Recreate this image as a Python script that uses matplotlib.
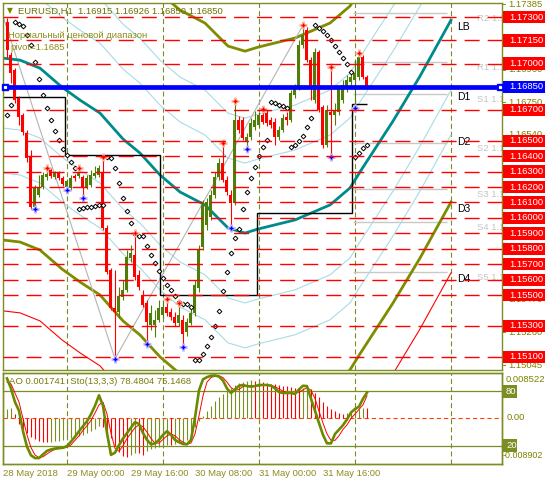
import numpy as np
import matplotlib
matplotlib.use("Agg")
import matplotlib.pyplot as plt
import matplotlib.transforms as mtransforms
from matplotlib.patches import Rectangle

plt.rcParams['font.family'] = ['Liberation Sans', 'DejaVu Sans']
plt.rcParams['lines.scale_dashes'] = False

# ---------------- data (EURUSD H1, one value per bar) ----------------
opens = [1.17268, 1.17054, 1.16957, 1.16776, 1.16666, 1.16550, 1.16401, 1.16071, 1.16148, 1.16200,
         1.16265, 1.16310, 1.16265, 1.16291, 1.16259, 1.16200, 1.16194, 1.16272, 1.16272, 1.16265,
         1.16200, 1.16213, 1.16272, 1.16278, 1.16291, 1.15935, 1.15663, 1.15417, 1.15391, 1.15488,
         1.15534, 1.15741, 1.15760, 1.15631, 1.15501, 1.15450, 1.15307, 1.15307, 1.15340, 1.15372,
         1.15424, 1.15391, 1.15359, 1.15320, 1.15340, 1.15262, 1.15320, 1.15385, 1.15547, 1.15812,
         1.15954, 1.16006, 1.16148, 1.16265, 1.16355, 1.16246, 1.16148, 1.16097, 1.16634, 1.16634,
         1.16491, 1.16524, 1.16588, 1.16601, 1.16666, 1.16679, 1.16634, 1.16621, 1.16524, 1.16569,
         1.16653, 1.16634, 1.16796, 1.16847, 1.17119, 1.17216, 1.17022, 1.16763, 1.17074, 1.16718,
         1.16472, 1.16685, 1.16666, 1.16685, 1.16763, 1.16841, 1.16879, 1.16892, 1.16912, 1.17041,
         1.16915]
highs = [1.17294, 1.17074, 1.16970, 1.16789, 1.16679, 1.16569, 1.16440, 1.16213, 1.16278, 1.16298,
         1.16323, 1.16323, 1.16304, 1.16304, 1.16272, 1.16252, 1.16278, 1.16285, 1.16323, 1.16278,
         1.16278, 1.16310, 1.16336, 1.16342, 1.16394, 1.15954, 1.15676, 1.15663, 1.15553, 1.15598,
         1.15793, 1.15825, 1.15902, 1.15663, 1.15534, 1.15469, 1.15437, 1.15404, 1.15469, 1.15469,
         1.15475, 1.15417, 1.15391, 1.15450, 1.15372, 1.15353, 1.15417, 1.15598, 1.15825, 1.16116,
         1.16129, 1.16181, 1.16298, 1.16388, 1.16485, 1.16272, 1.16181, 1.16757, 1.16660, 1.16653,
         1.16550, 1.16647, 1.16692, 1.16685, 1.16705, 1.16698, 1.16653, 1.16647, 1.16595, 1.16672,
         1.16685, 1.16828, 1.16867, 1.17151, 1.17248, 1.17235, 1.17041, 1.17099, 1.17087, 1.16731,
         1.16731, 1.16977, 1.16744, 1.16860, 1.16892, 1.16925, 1.16957, 1.17022, 1.17067, 1.17054,
         1.16926]
lows = [1.17035, 1.16873, 1.16744, 1.16601, 1.16537, 1.16362, 1.16058, 1.16058, 1.16135, 1.16187,
        1.16246, 1.16259, 1.16252, 1.16246, 1.16207, 1.16181, 1.16181, 1.16239, 1.16259, 1.16129,
        1.16187, 1.16200, 1.16259, 1.16265, 1.15922, 1.15637, 1.15404, 1.15087, 1.15353, 1.15469,
        1.15521, 1.15715, 1.15598, 1.15534, 1.15424, 1.15184, 1.15275, 1.15230, 1.15327, 1.15353,
        1.15365, 1.15340, 1.15301, 1.15301, 1.15165, 1.15236, 1.15307, 1.15365, 1.15521, 1.15793,
        1.15922, 1.15987, 1.16129, 1.16246, 1.16233, 1.16148, 1.15935, 1.16084, 1.16550, 1.16504,
        1.16446, 1.16504, 1.16569, 1.16588, 1.16608, 1.16595, 1.16582, 1.16472, 1.16504, 1.16556,
        1.16601, 1.16621, 1.16776, 1.16828, 1.17099, 1.17009, 1.16763, 1.16744, 1.16685, 1.16452,
        1.16459, 1.16394, 1.16601, 1.16666, 1.16744, 1.16815, 1.16860, 1.16711, 1.16892, 1.16899,
        1.16850]
closes = [1.17087, 1.16938, 1.16763, 1.16653, 1.16556, 1.16388, 1.16071, 1.16194, 1.16200, 1.16278,
          1.16285, 1.16272, 1.16291, 1.16259, 1.16220, 1.16239, 1.16259, 1.16259, 1.16298, 1.16200,
          1.16259, 1.16278, 1.16291, 1.16323, 1.15935, 1.15650, 1.15417, 1.15391, 1.15495, 1.15534,
          1.15747, 1.15773, 1.15618, 1.15553, 1.15437, 1.15327, 1.15385, 1.15340, 1.15417, 1.15424,
          1.15385, 1.15359, 1.15320, 1.15372, 1.15249, 1.15327, 1.15385, 1.15566, 1.15793, 1.16084,
          1.16103, 1.16148, 1.16265, 1.16355, 1.16246, 1.16168, 1.16097, 1.16634, 1.16569, 1.16517,
          1.16524, 1.16614, 1.16634, 1.16666, 1.16621, 1.16614, 1.16601, 1.16524, 1.16569, 1.16647,
          1.16634, 1.16808, 1.16847, 1.17119, 1.17184, 1.17022, 1.16847, 1.17074, 1.16698, 1.16472,
          1.16698, 1.16666, 1.16698, 1.16841, 1.16860, 1.16892, 1.16912, 1.16938, 1.17041, 1.16912,
          1.16850]

# parabolic SAR dots
sar = [1.16666, 1.16731, 1.17268, 1.17255, 1.17242, 1.17184, 1.17119, 1.17009, 1.16899, 1.16796,
       1.16711, 1.16634, 1.16563, 1.16504, 1.16446, 1.16407, 1.16362, 1.16323, 1.16058, 1.16064,
       1.16071, 1.16071, 1.16077, 1.16084, 1.16084, 1.16394, 1.16388, 1.16323, 1.16226, 1.16129,
       1.16045, 1.15967, 1.15896, 1.15883, 1.15883, 1.15818, 1.15760, 1.15708, 1.15656, 1.15611,
       1.15566, 1.15534, 1.15495, 1.15456, 1.15443, 1.15443, 1.15424, 1.15081, 1.15081, 1.15120,
       1.15171, 1.15230, 1.15301, 1.15398, 1.15527, 1.15650, 1.15773, 1.15870, 1.15928, 1.16058,
       1.16168, 1.16259, 1.16330, 1.16401, 1.16459, 1.16504, 1.16750, 1.16744, 1.16731, 1.16724,
       1.16711, 1.16459, 1.16472, 1.16498, 1.16530, 1.16588, 1.16647, 1.17248, 1.17229, 1.17209,
       1.17184, 1.17151, 1.17112, 1.17074, 1.17035, 1.16996, 1.16944, 1.16394, 1.16420, 1.16452,
       1.16472]

up_fractals = [10, 18, 24, 32, 40, 43, 54, 57, 64, 74, 81, 88]
down_fractals = [7, 15, 19, 27, 35, 44, 56, 60, 81, 87]

# LB channel centre line and band distances
lb_x = [-1, 3.25, 8.25, 13.75, 18.25, 23.25, 29, 33.25, 38.25, 43.25, 49.5, 55.25, 59.5,
        62.75, 72, 80.75, 85.75, 88.25, 96.5, 103.25, 111]
lb_y = [1.17035, 1.17022, 1.16970, 1.16847, 1.16763, 1.16679, 1.16511, 1.16420, 1.16278,
        1.16168, 1.16084, 1.15935, 1.15902, 1.15928, 1.15987, 1.16084, 1.16194, 1.16298,
        1.16627, 1.16918, 1.17281]
band_offsets = [0.00453, 0.00744, 0.01178, 0.01637]
band_names = ['D1', 'D2', 'D3', 'D4']

zigzag_x = [-1, 27, 74]
zigzag_y = [1.17306, 1.15087, 1.17248]

range_edges = [-1, 14.5, 38.25, 62.5, 86.25, 90]
range_levels = [1.16782, 1.16407, 1.15501, 1.16032, 1.16737]

pivot_names = ['R2', 'R1', 'S1', 'S2', 'S3', 'S4', 'S5']
pivot_levels = [1.17326, 1.17009, 1.16802, 1.16485, 1.16187, 1.15974, 1.15650]

red_levels = [1.1730, 1.1715, 1.1700, 1.1670, 1.1650, 1.1640, 1.1630, 1.1620, 1.1610,
              1.1600, 1.1590, 1.1580, 1.1570, 1.1560, 1.1550, 1.1530, 1.1510]
blue_level = 1.1685

# scale labels that peek out between the level boxes
price_ticks = [1.17385, 1.17170, 1.16960, 1.16750, 1.16540, 1.15470, 1.15260, 1.15045]

ao = [0.00172, 0.00191, 0.00064, -0.00127, -0.00223, -0.00305, -0.00369, -0.00420, -0.00445, -0.00464,
      -0.00477, -0.00471, -0.00458, -0.00445, -0.00432, -0.00420, -0.00401, -0.00382, -0.00363, -0.00337,
      -0.00305, -0.00267, -0.00223, -0.00159, -0.00191, -0.00286, -0.00394, -0.00541, -0.00668, -0.00731,
      -0.00750, -0.00712, -0.00674, -0.00687, -0.00712, -0.00636, -0.00604, -0.00585, -0.00560, -0.00541,
      -0.00522, -0.00534, -0.00509, -0.00490, -0.00471, -0.00432, -0.00382, -0.00191, -0.00076, 0.00032,
      0.00127, 0.00223, 0.00318, 0.00394, 0.00458, 0.00522, 0.00572, 0.00623, 0.00661, 0.00687,
      0.00706, 0.00719, 0.00700, 0.00712, 0.00687, 0.00668, 0.00649, 0.00636, 0.00623, 0.00611,
      0.00598, 0.00585, 0.00560, 0.00541, 0.00572, 0.00585, 0.00541, 0.00477, 0.00394, 0.00305,
      0.00223, 0.00172, 0.00127, 0.00095, 0.00076, 0.00095, 0.00114, 0.00140, 0.00159, 0.00184,
      0.00174]
stoch_k = [94, 83, 68, 58.5, 36, 19, 9.5, 6.5, 6.5, 10.6, 14.4, 16, 17, 17.4, 17.8, 19.7, 24.6, 30,
           36, 41.5, 47, 54.7, 64, 75.5, 64, 34, 10, 12.5, 20.8, 28, 34, 40, 46, 44, 34, 26.5, 21.6,
           22.7, 26.5, 32, 36, 32, 26.5, 24, 22, 21.6, 26.5, 51, 81, 93, 95.5, 97, 97.3, 96, 91.7,
           83, 78, 82, 86, 86.8, 85.6, 85, 85.6, 86.8, 86.8, 86.8, 86, 83, 79, 78, 78, 78, 77, 82,
           86, 85.6, 71.7, 58.5, 45, 32, 22.7, 22.7, 33, 37.8, 42.7, 49, 56.6, 60.4, 63, 71.7, 78.48]
stoch_d = [90, 88, 78, 68, 50, 32, 18, 10, 7, 8, 11, 14, 16, 17, 17.5, 18.5, 21, 26, 31, 37,
           42, 48, 56, 65, 68, 55, 34, 17, 14, 20, 28, 34, 40, 43, 41, 35, 28, 23, 23, 27,
           31, 33, 31, 27, 24, 22, 23, 33, 53, 75, 90, 95, 96.5, 97, 95, 90, 84, 81, 82, 85,
           86, 86, 85.5, 85.8, 86.5, 86.8, 86.5, 85, 82.5, 80, 78.5, 78, 77.5, 79, 81.5, 84, 81,
           72, 58, 45, 33, 26, 26, 31, 38, 43, 50, 55, 60, 65, 75.15]

day_lines = [15, 39, 63, 87, 111]
date_pos = [-1, 15, 31, 47, 63, 79]
date_labels = ['28 May 2018', '29 May 00:00', '29 May 16:00', '30 May 08:00',
               '31 May 00:00', '31 May 16:00']

# ---------------- style ----------------
olive = '#808000'
grid_c = '#7b8e23'
bull = '#4f7d08'
bear = '#ff0000'
teal = '#008b8b'
chan_olive = '#7f8c00'
lightblue = '#a9dbe4'
fs = 6.8

W, H = 545, 483
fig = plt.figure(figsize=(W / 100, H / 100), dpi=100)
fig.patch.set_facecolor('white')


def fxy(x, y):
    return x / W, 1 - y / H


ax = fig.add_axes([3 / W, 1 - 370 / H, 499 / W, 367 / H])
ax2 = fig.add_axes([3 / W, 1 - 464 / H, 499 / W, 91 / H])
ax3 = ax2.twinx()

xlim = (-1, 123.75)
for a in (ax, ax2, ax3):
    a.set_xlim(*xlim)
    a.set_xticks([])
    a.set_yticks([])
    for s in a.spines.values():
        s.set_color(grid_c)
        s.set_linewidth(1.0)
ax.set_ylim(1.15015, 1.17392)
ax2.set_ylim(-0.008902, 0.008522)
ax3.set_ylim(0, 100)

# ---------------- main panel ----------------
for d in day_lines:
    ax.axvline(d, color=grid_c, lw=0.8, ls=(0, (3.6, 2.2)), zorder=1)
    ax2.axvline(d, color=grid_c, lw=0.8, ls=(0, (3.6, 2.2)), zorder=1)

# pivot levels of the current day
ax.hlines(pivot_levels, 86.5, 110, color='#c8c8c8', lw=1.0, zorder=1.5)
for name, lvl in zip(pivot_names, pivot_levels):
    ax.text(117.5, lvl - 0.00005, f'{name} {lvl:.5f}', color='#c4c4c4', fontsize=fs,
            va='top', ha='left', clip_on=True, zorder=1.5)

# channel
lb_x_arr = np.array(lb_x)
lb_y_arr = np.array(lb_y)
band_colors = [lightblue, lightblue, chan_olive, '#ff0000']
band_lws = [0.8, 0.8, 2.0, 0.8]
for off, col, lw in zip(band_offsets, band_colors, band_lws):
    ax.plot(lb_x_arr, lb_y_arr + off, color=col, lw=lw, zorder=2)
    ax.plot(lb_x_arr, lb_y_arr - off, color=col, lw=lw, zorder=2)
ax.plot(lb_x_arr, lb_y_arr, color=teal, lw=2.0, zorder=2.2)

ax.annotate('LB', (lb_x[-1], lb_y[-1]), xytext=(4.3, -4.7), textcoords='offset points',
            va='center', ha='left', fontsize=7.5, color='black')
for off, name in zip(band_offsets, band_names):
    ax.annotate(name, (lb_x[-1], lb_y[-1] - off), xytext=(4.3, -4.7), textcoords='offset points',
                va='center', ha='left', fontsize=7.5, color='black')

# zigzag and daily range steps
ax.plot(zigzag_x, zigzag_y, color='#b4b4b4', lw=0.8, zorder=2)
ax.stairs(range_levels, range_edges, color='black', lw=1.0, baseline=None, zorder=2.5)

# candles
x = np.arange(len(opens))
o = np.array(opens)
c = np.array(closes)
hi = np.array(highs)
lo = np.array(lows)
cols = [bull if cc >= oo else bear for oo, cc in zip(o, c)]
ax.vlines(x, lo, hi, colors=cols, lw=0.8, zorder=3)
body_h = np.maximum(np.abs(c - o), 0.00006)
ax.bar(x, body_h, bottom=np.minimum(o, c), width=0.75, color=cols, lw=0, zorder=3)

# SAR
ax.plot(np.arange(len(sar)), sar, ls='none', marker='D', ms=2.4, mfc='white',
        mec='black', mew=0.7, zorder=6)

# fractals
ax.scatter(up_fractals, hi[up_fractals], marker='+', s=26, lw=2.0, color='#ffb49a', zorder=6)
ax.scatter(up_fractals, hi[up_fractals], marker='+', s=12, lw=1.0, color='#ff0000', zorder=7)
ax.scatter(down_fractals, lo[down_fractals], marker='+', s=26, lw=2.0, color='#c0b0ff', zorder=6)
ax.scatter(down_fractals, lo[down_fractals], marker='+', s=12, lw=1.0, color='#0000ff', zorder=7)

# horizontal levels
for lvl in red_levels:
    ax.axhline(lvl, color='#ff0000', lw=1.0, ls=(0, (10.8, 5.8)), zorder=8)
ax.axhline(blue_level, color='#0000ff', lw=3.4, zorder=9)
ax.plot([-0.5, 123.2], [blue_level, blue_level], ls='none', marker='s', ms=5,
        mfc='#0000ff', mec='#0000ff', zorder=10, clip_on=False)
ax.plot([-0.5, 123.2], [blue_level, blue_level], ls='none', marker='s', ms=1.3,
        mfc='white', mec='white', zorder=11, clip_on=False)

# right price scale
blend = mtransforms.blended_transform_factory(ax.transAxes, ax.transData)
for t in price_ticks:
    ax.plot([1.0, 1.006], [t, t], transform=blend, color=grid_c, lw=0.7, clip_on=False)
    ax.text(1.012, t, f'{t:.5f}', transform=blend, color=olive, fontsize=fs,
            va='center', ha='left', clip_on=False, zorder=1)
box_h = 0.00080
for lvl in red_levels:
    ax.add_patch(Rectangle((1.003, lvl - box_h / 2), 0.09, box_h, transform=blend,
                           fc='#ff0000', ec='none', clip_on=False, zorder=20))
    ax.text(1.014, lvl, f'{lvl:.5f}', transform=blend, color='white', fontsize=fs,
            va='center', ha='left', clip_on=False, zorder=21)
ax.add_patch(Rectangle((1.003, blue_level - box_h / 2), 0.09, box_h, transform=blend,
                       fc='#0000ff', ec='none', clip_on=False, zorder=20))
ax.text(1.014, blue_level, f'{blue_level:.5f}', transform=blend, color='white', fontsize=fs,
        va='center', ha='left', clip_on=False, zorder=21)

# header texts
fig.text(*fxy(7, 11), '\u25BC', color=olive, fontsize=5.5, va='center', ha='left',
         family='DejaVu Sans')
fig.text(*fxy(18, 11), 'EURUSD,H1  1.16915 1.16926 1.16850 1.16850', color='#6e7000',
         fontsize=fs, va='center', ha='left')
fig.text(*fxy(8, 35), 'Нормальный ценовой диапазон', color='#8c8c1c', fontsize=fs,
         va='center', ha='left')
fig.text(*fxy(10, 47), 'pivot=1.1685', color='#8c8c1c', fontsize=fs, va='center', ha='left')

# ---------------- lower panel: AO + Stochastic ----------------
ax2.axhline(0, color='#ff4000', lw=0.8, ls=(0, (3, 2.2)), zorder=1)
ao_x = np.arange(len(ao))
ao_cols = [grid_c] + [grid_c if ao[i] > ao[i - 1] else '#ff0000' for i in range(1, len(ao))]
ax2.vlines(ao_x, 0, ao, colors=ao_cols, lw=0.8, zorder=2)

ax3.axhline(80, color=grid_c, lw=0.9)
ax3.axhline(20, color=grid_c, lw=0.9)
ax3.plot(np.arange(len(stoch_d)), stoch_d, color='#ff0000', lw=0.7, zorder=3)
ax3.plot(np.arange(len(stoch_k)), stoch_k, color='#6b8a00', lw=1.9, zorder=4)

fig.text(*fxy(9, 382), 'AO 0.001741  Sto(13,3,3) 78.4804 75.1468', color='#7a7a10',
         fontsize=fs, va='center', ha='left')

# right labels of lower panel
fig.text(*fxy(506, 380), '0.008522', color=olive, fontsize=fs, va='center', ha='left')
fig.text(*fxy(507, 417), '0.00', color=olive, fontsize=fs, va='center', ha='left')
fig.text(*fxy(503, 456), '-0.008902', color=olive, fontsize=6.4, va='center', ha='left')
blend2 = mtransforms.blended_transform_factory(ax3.transAxes, ax3.transData)
for lvl in (80, 20):
    ax3.add_patch(Rectangle((1.003, lvl - 7), 0.028, 14, transform=blend2,
                            fc=grid_c, ec='none', clip_on=False, zorder=20))
    ax3.text(1.008, lvl, str(lvl), transform=blend2, color='white', fontsize=fs,
             va='center', ha='left', clip_on=False, zorder=21)

# time axis
bx = mtransforms.blended_transform_factory(ax2.transData, ax2.transAxes)
for p, lab in zip(date_pos, date_labels):
    ax2.text(p, -0.1, lab, transform=bx, color='#8a8a20', fontsize=fs,
             va='center', ha='left', clip_on=False)

fig.savefig('out.png', dpi=100, facecolor='white')
